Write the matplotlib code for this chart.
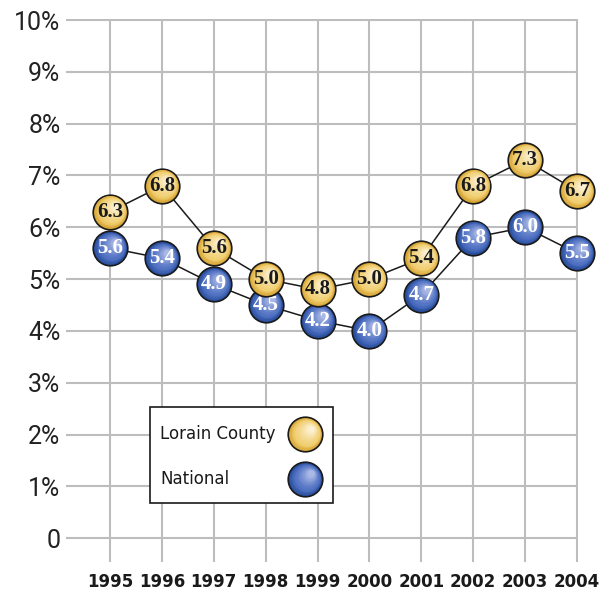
import matplotlib.pyplot as plt
import matplotlib.transforms as mtransforms
import numpy as np
from matplotlib.colors import to_rgb
from matplotlib.patches import Rectangle

years = [1995, 1996, 1997, 1998, 1999, 2000, 2001, 2002, 2003, 2004]
lorain = [6.3, 6.8, 5.6, 5.0, 4.8, 5.0, 5.4, 6.8, 7.3, 6.7]
national = [5.6, 5.4, 4.9, 4.5, 4.2, 4.0, 4.7, 5.8, 6.0, 5.5]
y_ticks = [0, 1, 2, 3, 4, 5, 6, 7, 8, 9, 10]
y_labels = ["0"] + [f"{v}%" for v in y_ticks[1:]]

YELLOW = ("#d9a738", "#f1cf72", "#fbf0d0")
BLUE = ("#2a4f9f", "#4f70c2", "#aab8e6")

fig = plt.figure(figsize=(6.1, 5.92), dpi=100)
ax = fig.add_axes([66 / 610, 30 / 592, 512 / 610, 543 / 592])


def gradient_dots(ax, xs, ys, colors, size=620, steps=16, zorder=5, transform=None):
    dark, mid, light = (np.array(to_rgb(c)) for c in colors)
    transform = transform or ax.transData
    r_pt = np.sqrt(size) / 2
    # outline + darkest rim first
    ax.scatter(xs, ys, s=size, color=dark, edgecolor="#1a1a1a", linewidth=1.2,
               zorder=zorder, transform=transform, clip_on=False)
    for i in range(1, steps):
        t = i / (steps - 1)
        frac = 1 - 0.85 * i / steps
        if t < 0.25:
            col = dark + (mid - dark) * (t / 0.25)
        else:
            col = mid + (light - mid) * ((t - 0.25) / 0.75) ** 1.3
        off = 0.4 * r_pt * (1 - frac) / 72
        tr = transform + mtransforms.ScaledTranslation(off, off, fig.dpi_scale_trans)
        ax.scatter(xs, ys, s=size * frac ** 2 * 0.9, color=col, linewidth=0,
                   zorder=zorder + 0.01 * i, transform=tr, clip_on=False)


ax.plot(years, national, color="#1a1a1a", lw=1.1, zorder=3, clip_on=False)
ax.plot(years, lorain, color="#1a1a1a", lw=1.1, zorder=3, clip_on=False)
gradient_dots(ax, years, national, BLUE, zorder=4)
gradient_dots(ax, years, lorain, YELLOW, zorder=6)

for x, v in zip(years, national):
    ax.text(x, v, f"{v:.1f}", ha="center", va="center", fontsize=15,
            family="Liberation Serif", weight="bold", color="white", zorder=5.9)
for x, v in zip(years, lorain):
    ax.text(x, v, f"{v:.1f}", ha="center", va="center", fontsize=15,
            family="Liberation Serif", weight="bold", color="#1a1a1a", zorder=7.9)

ax.set_xlim(1994.15, 2004.02)
ax.set_ylim(-0.46, 10.02)
ax.set_yticks(y_ticks, y_labels, fontsize=18, family="Roboto", color="#222222")
ax.set_xticks(years, [str(y) for y in years], fontsize=12, weight="bold",
              color="#1a1a1a")
ax.tick_params(axis="both", length=0)
ax.tick_params(axis="y", pad=4)
ax.tick_params(axis="x", pad=8)
ax.grid(True, color="#bdbdbd", lw=1.5)
ax.set_axisbelow(True)
for s in ax.spines.values():
    s.set_visible(False)

# legend
ax.add_patch(Rectangle((0.164, 0.1087), 0.357, 0.177, transform=ax.transAxes,
                       facecolor="white", edgecolor="#1a1a1a", lw=1.2, zorder=8))
ax.text(0.184, 0.2357, "Lorain County", transform=ax.transAxes, fontsize=12,
        va="center", ha="left", color="#1a1a1a", zorder=9)
ax.text(0.184, 0.1529, "National", transform=ax.transAxes, fontsize=12,
        va="center", ha="left", color="#1a1a1a", zorder=9)
gradient_dots(ax, [0.467], [0.2357], YELLOW, zorder=9, transform=ax.transAxes)
gradient_dots(ax, [0.467], [0.1529], BLUE, zorder=9, transform=ax.transAxes)

fig.savefig("out.png", dpi=100)
